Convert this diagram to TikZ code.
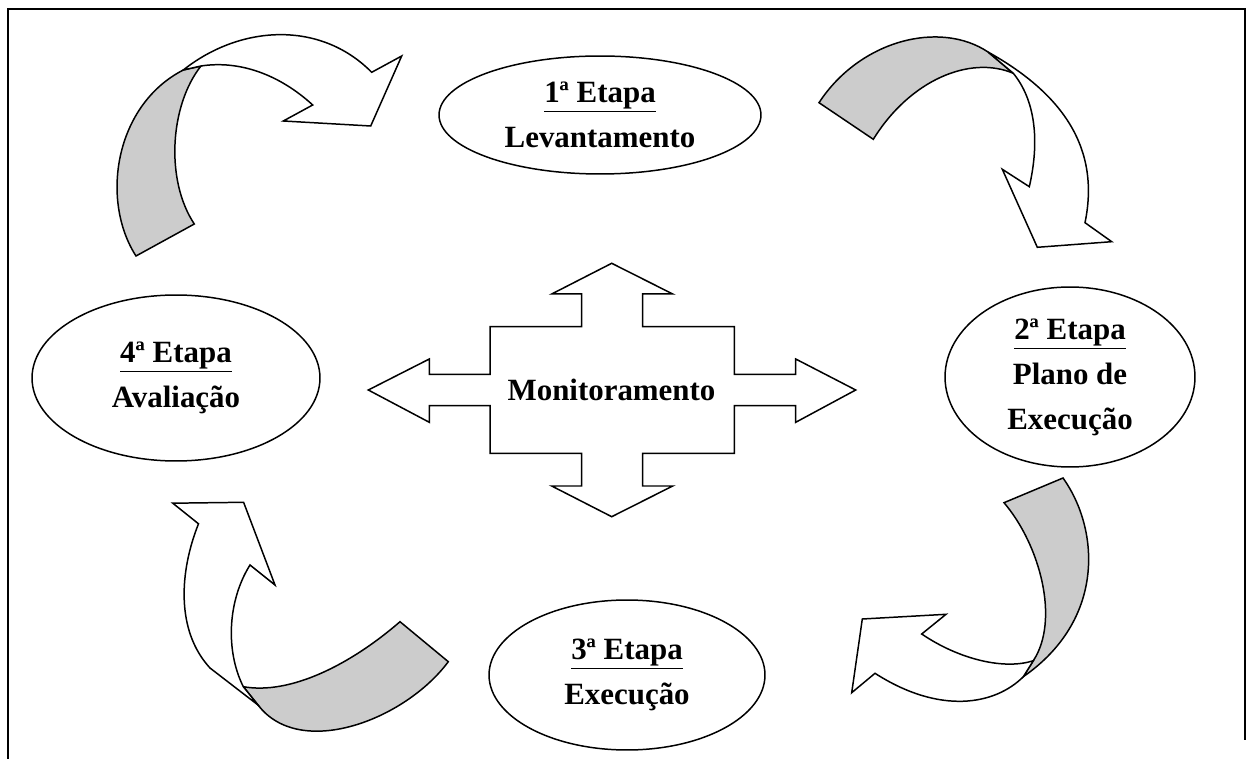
\documentclass[tikz,border=0pt]{standalone}
\usepackage{fontspec}
\setmainfont{Liberation Serif}
\usetikzlibrary{shapes.geometric}
\definecolor{cinza}{gray}{0.8}

\begin{document}
\begin{tikzpicture}[x=0.02cm, y=-0.02cm,
  etapa/.style={ellipse, draw, line width=0.85pt, inner sep=0pt, align=center,
    font=\fontsize{17.6}{25.6}\selectfont\bfseries},
  seta/.style={draw, line width=0.85pt, fill=white, line join=miter},
  faixa/.style={draw, line width=0.85pt, fill=cinza}]
  \useasboundingbox (0,0) rectangle (1246,759);

  % Draw frame
  \draw[line width=1.4pt] (8,759) -- (8,9) -- (1245,9) -- (1245,740);

  % Draw stages
  \node[etapa, minimum width=6.44cm, minimum height=2.36cm] (etapa1) at (600,115)
    {\underline{1ª Etapa}\\Levantamento};
  \node[etapa, minimum width=5.0cm, minimum height=3.6cm] (etapa2) at (1070,377)
    {\underline{2ª Etapa}\\Plano de\\Execução};
  \node[etapa, minimum width=5.52cm, minimum height=3.0cm] (etapa3) at (627,675)
    {\underline{3ª Etapa}\\Execução};
  \node[etapa, minimum width=5.76cm, minimum height=3.32cm] (etapa4) at (176,378)
    {\underline{4ª Etapa}\\Avaliação};

  % Draw monitoring cross
  \draw[seta] (611.7,263.3) -- (672.7,294) -- (642.7,294) -- (642.7,326.7)
    -- (734.3,326.7) -- (734.3,374.3) -- (795.7,374.3) -- (795.7,359)
    -- (855.7,390) -- (795.7,422.3) -- (795.7,405.7) -- (734.3,405.7)
    -- (734.3,453.3) -- (642.7,453.3) -- (642.7,486) -- (672.7,486)
    -- (611.7,516.7) -- (551.7,486) -- (581.7,486) -- (581.7,453.3)
    -- (490,453.3) -- (490,405.7) -- (429.3,405.7) -- (429.3,422.3)
    -- (368.3,390) -- (429.3,359) -- (429.3,374.3) -- (490,374.3)
    -- (490,326.7) -- (581.7,326.7) -- (581.7,294) -- (551.7,294) -- cycle;
  \node[font=\fontsize{17.6}{25.6}\selectfont\bfseries] (monit) at (611.5,390) {Monitoramento};

  % Draw curved arrow 4 -> 1
  \draw[faixa] (183.3,70) .. controls (115,105) and (100,200) .. (136,256)
    -- (194.3,224) .. controls (165,180) and (170,105) .. (201,66) -- cycle;
  \draw[seta] (183.3,70) .. controls (240,25) and (320,20) .. (371.7,72.3)
    -- (401.7,56) -- (370.7,126) -- (283.3,121) -- (312.7,105)
    .. controls (280,75) and (240,60) .. (201,66) -- cycle;

  % Draw curved arrow 1 -> 2
  \draw[faixa] (819,102.7) .. controls (860,40) and (940,20) .. (988,52)
    -- (1013.3,73.3) .. controls (970,55) and (910,80) .. (873.3,139.3) -- cycle;
  \draw[seta] (988,52) .. controls (1065,95) and (1100,150) .. (1085,222.7)
    -- (1111.7,241.7) -- (1037.3,247.3) -- (1002.3,169.3) -- (1029.3,186.7)
    .. controls (1040,140) and (1035,100) .. (1013.3,73.3) -- cycle;

  % Draw curved arrow 2 -> 3
  \draw[faixa] (1063,478) .. controls (1100,530) and (1105,620) .. (1023.3,676.7)
    -- (1033.3,660.7) .. controls (1060,620) and (1040,545) .. (1004,502.7) -- cycle;
  \draw[seta] (1023.3,676.7) .. controls (995,705) and (940,715) .. (875,673.3)
    -- (851.7,692.7) -- (862.3,619) -- (946,614.3) -- (921.7,634)
    .. controls (960,660) and (1005,670) .. (1033.3,660.7) -- cycle;

  % Draw curved arrow 3 -> 4
  \draw[faixa] (448.3,661.7) .. controls (405,720) and (300,760) .. (258,705)
    -- (243.3,686.7) .. controls (290,695) and (350,665) .. (400,621.7) -- cycle;
  \draw[seta] (198.5,523.8) .. controls (180,570) and (175,630) .. (210,668)
    -- (258,705) -- (243.3,686.7) .. controls (225,650) and (228,600) .. (250,565)
    -- (275,585) -- (243.6,502.3) -- (172.8,503.2) -- cycle;
\end{tikzpicture}
\end{document}
